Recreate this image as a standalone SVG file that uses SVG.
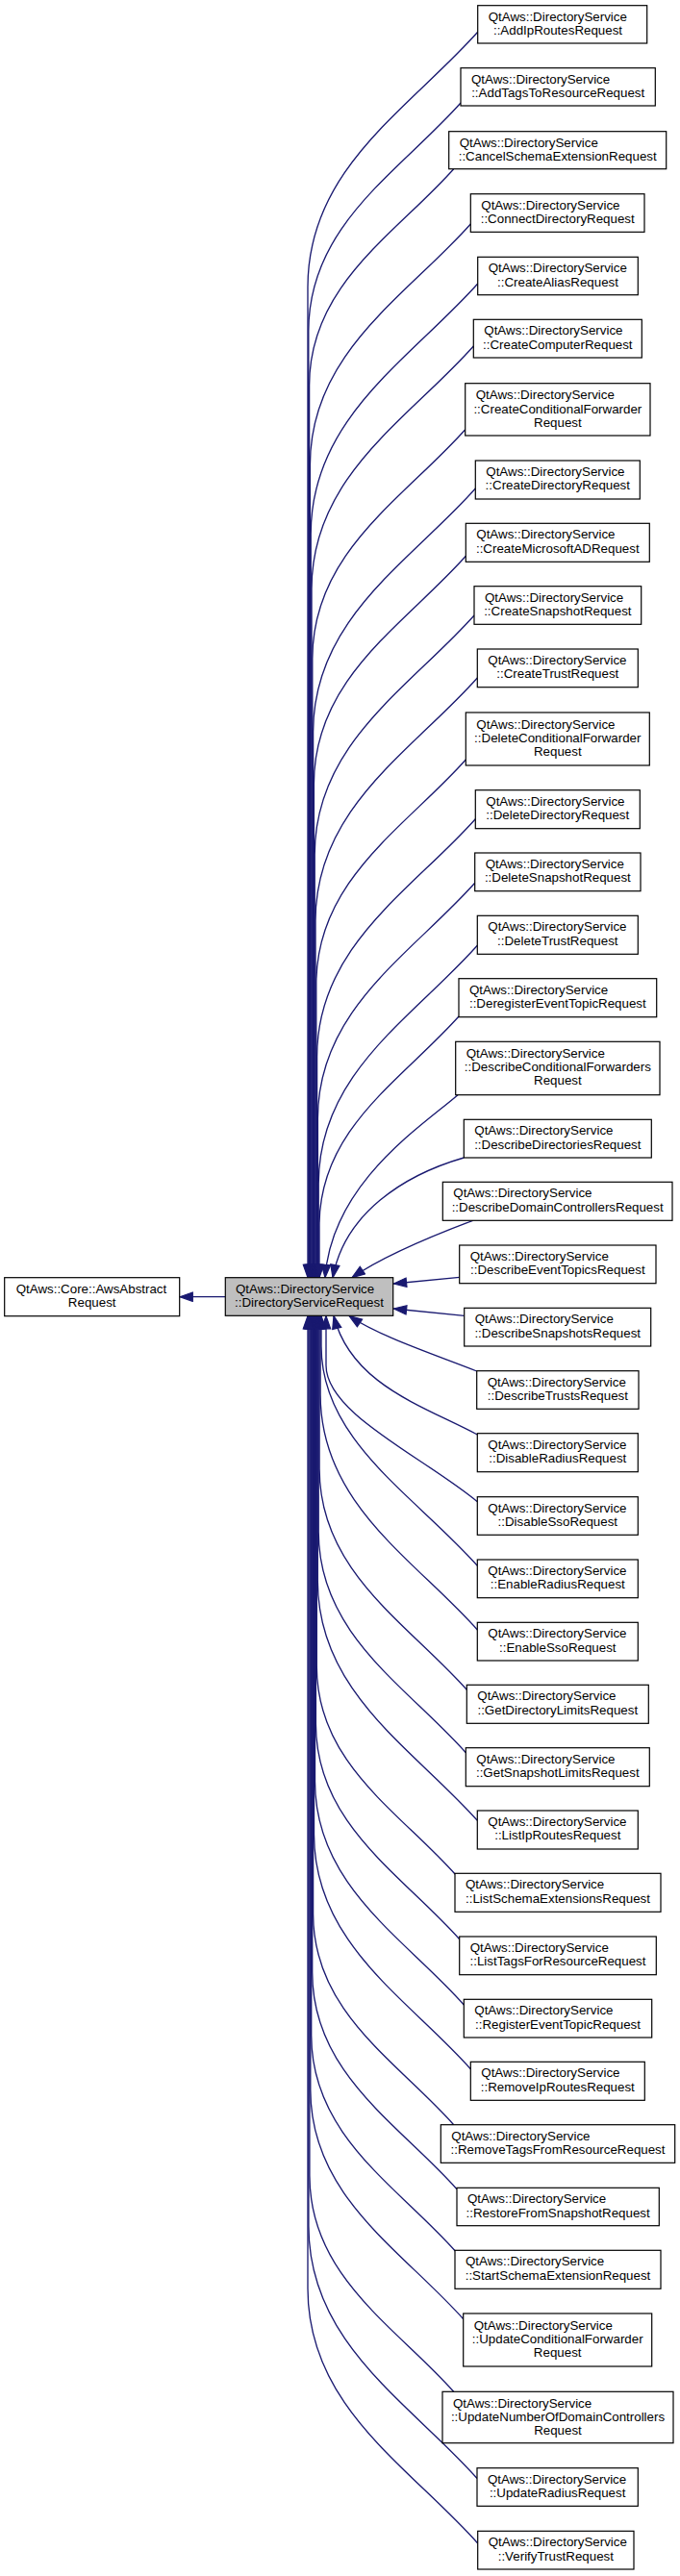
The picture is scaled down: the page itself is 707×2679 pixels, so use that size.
<svg xmlns="http://www.w3.org/2000/svg" width="707" height="2679" viewBox="0 0 707 2679">
<style>
.node rect{fill:#fff;stroke:#000;stroke-width:1.2}
#nodeBase rect{fill:#bfbfbf}
.node text{font-family:"Liberation Sans",Arial,Helvetica,sans-serif;font-size:13.33px;fill:#000}
.node text.c{text-anchor:middle}
.edges path{fill:none;stroke:#191970;stroke-width:1.33;marker-end:url(#arr)}
</style>
<defs>
<marker id="arr" markerUnits="userSpaceOnUse" viewBox="-1 -1 15.3 11.33" refX="13.3" refY="4.67" markerWidth="15.3" markerHeight="11.33" orient="auto">
<path d="M0,0 L13.3,4.67 L0,9.33 Z" fill="#191970" stroke="#191970" stroke-width="1.2"/>
</marker>
</defs>
<rect width="707" height="2679" fill="#fff"/>
<g class="edges" id="edges">
<path d="M234,1348.7 L187,1348.7"/>
<path d="M496.7,33.3 C426,112.8 320,174.7 320,298.4 L320,1328.7"/>
<path d="M479,107 C415.7,178.2 320.8,233.6 320.8,344.3 L320.8,1328.7"/>
<path d="M471.7,175.7 C411.7,243.2 321.6,295.8 321.6,400.9 L321.6,1328.7"/>
<path d="M489.3,233 C422.5,308.1 322.4,366.5 322.4,483.4 L322.4,1328.7"/>
<path d="M496.7,295 C427.3,373.1 323.2,433.8 323.2,555.3 L323.2,1328.7"/>
<path d="M492.3,360 C425,435.7 324,494.6 324,612.5 L324,1328.7"/>
<path d="M483.7,446.7 C420.1,518.2 324.8,573.8 324.8,685.1 L324.8,1328.7"/>
<path d="M494.3,508 C426.8,583.9 325.6,643 325.6,761.1 L325.6,1328.7"/>
<path d="M484.3,578.3 C421.1,649.4 326.4,704.6 326.4,815.2 L326.4,1328.7"/>
<path d="M493,640 C426.7,714.6 327.2,772.6 327.2,888.7 L327.2,1328.7"/>
<path d="M496.3,705 C429,780.7 328,839.6 328,957.5 L328,1328.7"/>
<path d="M484.3,790 C422.1,860 328.8,914.4 328.8,1023.3 L328.8,1328.7"/>
<path d="M494.3,851.7 C428.4,925.8 329.6,983.5 329.6,1098.8 L329.6,1328.7"/>
<path d="M493.7,918.3 C428.4,991.8 330.4,1048.9 330.4,1163.3 L330.4,1328.7"/>
<path d="M496.3,983.3 C430.3,1057.6 331.2,1115.4 331.2,1231 L331.2,1328.7"/>
<path d="M477,1057 C419,1122.3 332,1173 332,1274.5 L332,1328.7"/>
<path d="M476,1138.7 C440,1170 345,1230 338,1328.7"/>
<path d="M482.3,1204 C420,1222 358,1262 346,1328.7"/>
<path d="M491.7,1269.3 C450,1285 400,1305 366,1328.7"/>
<path d="M477.7,1328.3 L409.3,1335"/>
<path d="M482.7,1368.3 L409.3,1361"/>
<path d="M495.7,1426 C450,1408 395,1390 363,1368.5"/>
<path d="M496.3,1492 C440,1462 365,1440 347,1368.5"/>
<path d="M496.3,1561.7 C440,1515 339,1470 339,1420 L339,1368.5"/>
<path d="M496.3,1628.3 C431.4,1555.3 334,1498.5 334,1400 L334,1368.5"/>
<path d="M496.3,1695 C431,1621.6 333.1,1564.4 333.1,1450.2 L333.1,1368.5"/>
<path d="M485.3,1757.3 C424,1688.4 332.1,1634.7 332.1,1527.5 L332.1,1368.5"/>
<path d="M484.3,1822.7 C423.1,1753.8 331.2,1700.2 331.2,1593.1 L331.2,1368.5"/>
<path d="M496.3,1893.3 C429.9,1818.6 330.3,1760.5 330.3,1644.3 L330.3,1368.5"/>
<path d="M473.3,1949.3 C415.7,1884.5 329.3,1834.1 329.3,1733.3 L329.3,1368.5"/>
<path d="M477.7,2016.7 C418,1949.5 328.4,1897.3 328.4,1792.7 L328.4,1368.5"/>
<path d="M482.3,2085 C420.4,2015.3 327.5,1961.2 327.5,1852.8 L327.5,1368.5"/>
<path d="M489.3,2151.7 C424.2,2078.4 326.5,2021.5 326.5,1907.5 L326.5,1368.5"/>
<path d="M471.7,2209.7 C413.3,2144 325.6,2092.8 325.6,1990.6 L325.6,1368.5"/>
<path d="M475,2276.7 C414.9,2209.1 324.7,2156.5 324.7,2051.2 L324.7,1368.5"/>
<path d="M473.3,2341 C413.5,2273.7 323.7,2221.3 323.7,2116.6 L323.7,1368.5"/>
<path d="M481.7,2411.7 C418.1,2340.2 322.8,2284.6 322.8,2173.3 L322.8,1368.5"/>
<path d="M471.7,2487.3 C411.8,2419.9 321.9,2367.5 321.9,2262.6 L321.9,1368.5"/>
<path d="M496,2577.5 C426,2498.7 320.9,2437.4 320.9,2314.9 L320.9,1368.5"/>
<path d="M496.7,2645 C426,2565.5 320,2503.6 320,2379.9 L320,1368.5"/>
</g>
<g id="nodeAbstract" class="node"><rect x="4.7" y="1328.7" width="182" height="40"/><text x="16.7" y="1344.7">QtAws::Core::AwsAbstract</text><text class="c" x="95.7" y="1359">Request</text></g>
<g id="nodeBase" class="node"><rect x="234.3" y="1328.7" width="174.4" height="39.6"/><text x="245" y="1344.7">QtAws::DirectoryService</text><text class="c" x="321.5" y="1359">::DirectoryServiceRequest</text></g>
<g id="n1" class="node"><rect x="496.7" y="5.7" width="176" height="39.3"/><text x="507.7" y="21.7">QtAws::DirectoryService</text><text class="c" x="580" y="36">::AddIpRoutesRequest</text></g>
<g id="n2" class="node"><rect x="479" y="70.7" width="202.3" height="39.3"/><text x="490" y="86.7">QtAws::DirectoryService</text><text class="c" x="580.2" y="101">::AddTagsToResourceRequest</text></g>
<g id="n3" class="node"><rect x="466.7" y="136.7" width="226" height="39"/><text x="477.7" y="152.7">QtAws::DirectoryService</text><text class="c" x="579.7" y="167">::CancelSchemaExtensionRequest</text></g>
<g id="n4" class="node"><rect x="489.3" y="201.7" width="180.7" height="39.6"/><text x="500.3" y="217.7">QtAws::DirectoryService</text><text class="c" x="579.7" y="232">::ConnectDirectoryRequest</text></g>
<g id="n5" class="node"><rect x="496.7" y="267.3" width="166.6" height="39.4"/><text x="507.7" y="283.3">QtAws::DirectoryService</text><text class="c" x="580" y="297.6">::CreateAliasRequest</text></g>
<g id="n6" class="node"><rect x="492.3" y="332.3" width="175" height="39.7"/><text x="503.3" y="348.3">QtAws::DirectoryService</text><text class="c" x="579.8" y="362.6">::CreateComputerRequest</text></g>
<g id="n7" class="node"><rect x="483.7" y="398.7" width="192.3" height="54.3"/><text x="494.7" y="415.2">QtAws::DirectoryService</text><text class="c" x="579.85" y="429.5">::CreateConditionalForwarder</text><text class="c" x="579.85" y="443.8">Request</text></g>
<g id="n8" class="node"><rect x="494.3" y="479" width="171" height="40"/><text x="505.3" y="495">QtAws::DirectoryService</text><text class="c" x="579.8" y="509.3">::CreateDirectoryRequest</text></g>
<g id="n9" class="node"><rect x="484.3" y="544.3" width="191" height="40"/><text x="495.3" y="560.3">QtAws::DirectoryService</text><text class="c" x="579.8" y="574.6">::CreateMicrosoftADRequest</text></g>
<g id="n10" class="node"><rect x="493" y="609.7" width="173.7" height="39.6"/><text x="504" y="625.7">QtAws::DirectoryService</text><text class="c" x="579.85" y="640">::CreateSnapshotRequest</text></g>
<g id="n11" class="node"><rect x="496.3" y="675" width="167" height="39.7"/><text x="507.3" y="691">QtAws::DirectoryService</text><text class="c" x="579.8" y="705.3">::CreateTrustRequest</text></g>
<g id="n12" class="node"><rect x="484.3" y="741" width="191" height="55"/><text x="495.3" y="757.5">QtAws::DirectoryService</text><text class="c" x="579.8" y="771.8">::DeleteConditionalForwarder</text><text class="c" x="579.8" y="786.1">Request</text></g>
<g id="n13" class="node"><rect x="494.3" y="821.7" width="171" height="40"/><text x="505.3" y="837.7">QtAws::DirectoryService</text><text class="c" x="579.8" y="852">::DeleteDirectoryRequest</text></g>
<g id="n14" class="node"><rect x="493.7" y="887" width="172.3" height="39.7"/><text x="504.7" y="903">QtAws::DirectoryService</text><text class="c" x="579.85" y="917.3">::DeleteSnapshotRequest</text></g>
<g id="n15" class="node"><rect x="496.3" y="952.3" width="167" height="40"/><text x="507.3" y="968.3">QtAws::DirectoryService</text><text class="c" x="579.8" y="982.6">::DeleteTrustRequest</text></g>
<g id="n16" class="node"><rect x="477" y="1017.7" width="205.7" height="40"/><text x="488" y="1033.7">QtAws::DirectoryService</text><text class="c" x="579.85" y="1048">::DeregisterEventTopicRequest</text></g>
<g id="n17" class="node"><rect x="473.7" y="1083.3" width="212.3" height="55.4"/><text x="484.7" y="1099.8">QtAws::DirectoryService</text><text class="c" x="579.85" y="1114.1">::DescribeConditionalForwarders</text><text class="c" x="579.85" y="1128.4">Request</text></g>
<g id="n18" class="node"><rect x="482.3" y="1164.3" width="195" height="39.7"/><text x="493.3" y="1180.3">QtAws::DirectoryService</text><text class="c" x="579.8" y="1194.6">::DescribeDirectoriesRequest</text></g>
<g id="n19" class="node"><rect x="460.3" y="1229.3" width="238.7" height="40"/><text x="471.3" y="1245.3">QtAws::DirectoryService</text><text class="c" x="579.65" y="1259.6">::DescribeDomainControllersRequest</text></g>
<g id="n20" class="node"><rect x="477.7" y="1295" width="204.3" height="39.7"/><text x="488.7" y="1311">QtAws::DirectoryService</text><text class="c" x="579.85" y="1325.3">::DescribeEventTopicsRequest</text></g>
<g id="n21" class="node"><rect x="482.7" y="1360.3" width="194" height="39.7"/><text x="493.7" y="1376.3">QtAws::DirectoryService</text><text class="c" x="579.7" y="1390.6">::DescribeSnapshotsRequest</text></g>
<g id="n22" class="node"><rect x="495.7" y="1425.7" width="168.3" height="39.6"/><text x="506.7" y="1441.7">QtAws::DirectoryService</text><text class="c" x="579.85" y="1456">::DescribeTrustsRequest</text></g>
<g id="n23" class="node"><rect x="496.3" y="1490.7" width="167" height="40"/><text x="507.3" y="1506.7">QtAws::DirectoryService</text><text class="c" x="579.8" y="1521">::DisableRadiusRequest</text></g>
<g id="n24" class="node"><rect x="496.3" y="1556.7" width="167" height="39.6"/><text x="507.3" y="1572.7">QtAws::DirectoryService</text><text class="c" x="579.8" y="1587">::DisableSsoRequest</text></g>
<g id="n25" class="node"><rect x="496.3" y="1622" width="167" height="39.7"/><text x="507.3" y="1638">QtAws::DirectoryService</text><text class="c" x="579.8" y="1652.3">::EnableRadiusRequest</text></g>
<g id="n26" class="node"><rect x="496.3" y="1687.3" width="167" height="39.7"/><text x="507.3" y="1703.3">QtAws::DirectoryService</text><text class="c" x="579.8" y="1717.6">::EnableSsoRequest</text></g>
<g id="n27" class="node"><rect x="485.3" y="1752.3" width="189" height="40"/><text x="496.3" y="1768.3">QtAws::DirectoryService</text><text class="c" x="579.8" y="1782.6">::GetDirectoryLimitsRequest</text></g>
<g id="n28" class="node"><rect x="484.3" y="1817.7" width="191" height="40"/><text x="495.3" y="1833.7">QtAws::DirectoryService</text><text class="c" x="579.8" y="1848">::GetSnapshotLimitsRequest</text></g>
<g id="n29" class="node"><rect x="496.3" y="1883" width="167" height="40"/><text x="507.3" y="1899">QtAws::DirectoryService</text><text class="c" x="579.8" y="1913.3">::ListIpRoutesRequest</text></g>
<g id="n30" class="node"><rect x="473" y="1948.3" width="214" height="40"/><text x="484" y="1964.3">QtAws::DirectoryService</text><text class="c" x="580" y="1978.6">::ListSchemaExtensionsRequest</text></g>
<g id="n31" class="node"><rect x="477.7" y="2014" width="204.6" height="39.7"/><text x="488.7" y="2030">QtAws::DirectoryService</text><text class="c" x="580" y="2044.3">::ListTagsForResourceRequest</text></g>
<g id="n32" class="node"><rect x="482.3" y="2079.3" width="195.4" height="39.7"/><text x="493.3" y="2095.3">QtAws::DirectoryService</text><text class="c" x="580" y="2109.6">::RegisterEventTopicRequest</text></g>
<g id="n33" class="node"><rect x="489.3" y="2144.3" width="181" height="40"/><text x="500.3" y="2160.3">QtAws::DirectoryService</text><text class="c" x="579.8" y="2174.6">::RemoveIpRoutesRequest</text></g>
<g id="n34" class="node"><rect x="458.3" y="2209.7" width="243.4" height="39.6"/><text x="469.3" y="2225.7">QtAws::DirectoryService</text><text class="c" x="580" y="2240">::RemoveTagsFromResourceRequest</text></g>
<g id="n35" class="node"><rect x="475" y="2275.3" width="210.3" height="39.4"/><text x="486" y="2291.3">QtAws::DirectoryService</text><text class="c" x="580.15" y="2305.6">::RestoreFromSnapshotRequest</text></g>
<g id="n36" class="node"><rect x="473" y="2340.3" width="214" height="40"/><text x="484" y="2356.3">QtAws::DirectoryService</text><text class="c" x="580" y="2370.6">::StartSchemaExtensionRequest</text></g>
<g id="n37" class="node"><rect x="481.7" y="2406" width="196" height="55"/><text x="492.7" y="2422.5">QtAws::DirectoryService</text><text class="c" x="579.7" y="2436.8">::UpdateConditionalForwarder</text><text class="c" x="579.7" y="2451.1">Request</text></g>
<g id="n38" class="node"><rect x="460" y="2487.3" width="240" height="53.4"/><text x="471" y="2503.8">QtAws::DirectoryService</text><text class="c" x="580" y="2518.1">::UpdateNumberOfDomainControllers</text><text class="c" x="580" y="2532.4">Request</text></g>
<g id="n39" class="node"><rect x="496" y="2566.7" width="167.3" height="39.6"/><text x="507" y="2582.7">QtAws::DirectoryService</text><text class="c" x="579.65" y="2597">::UpdateRadiusRequest</text></g>
<g id="n40" class="node"><rect x="496.7" y="2632.3" width="162.3" height="39.7"/><text x="507.7" y="2648.3">QtAws::DirectoryService</text><text class="c" x="577.85" y="2662.6">::VerifyTrustRequest</text></g>
</svg>
